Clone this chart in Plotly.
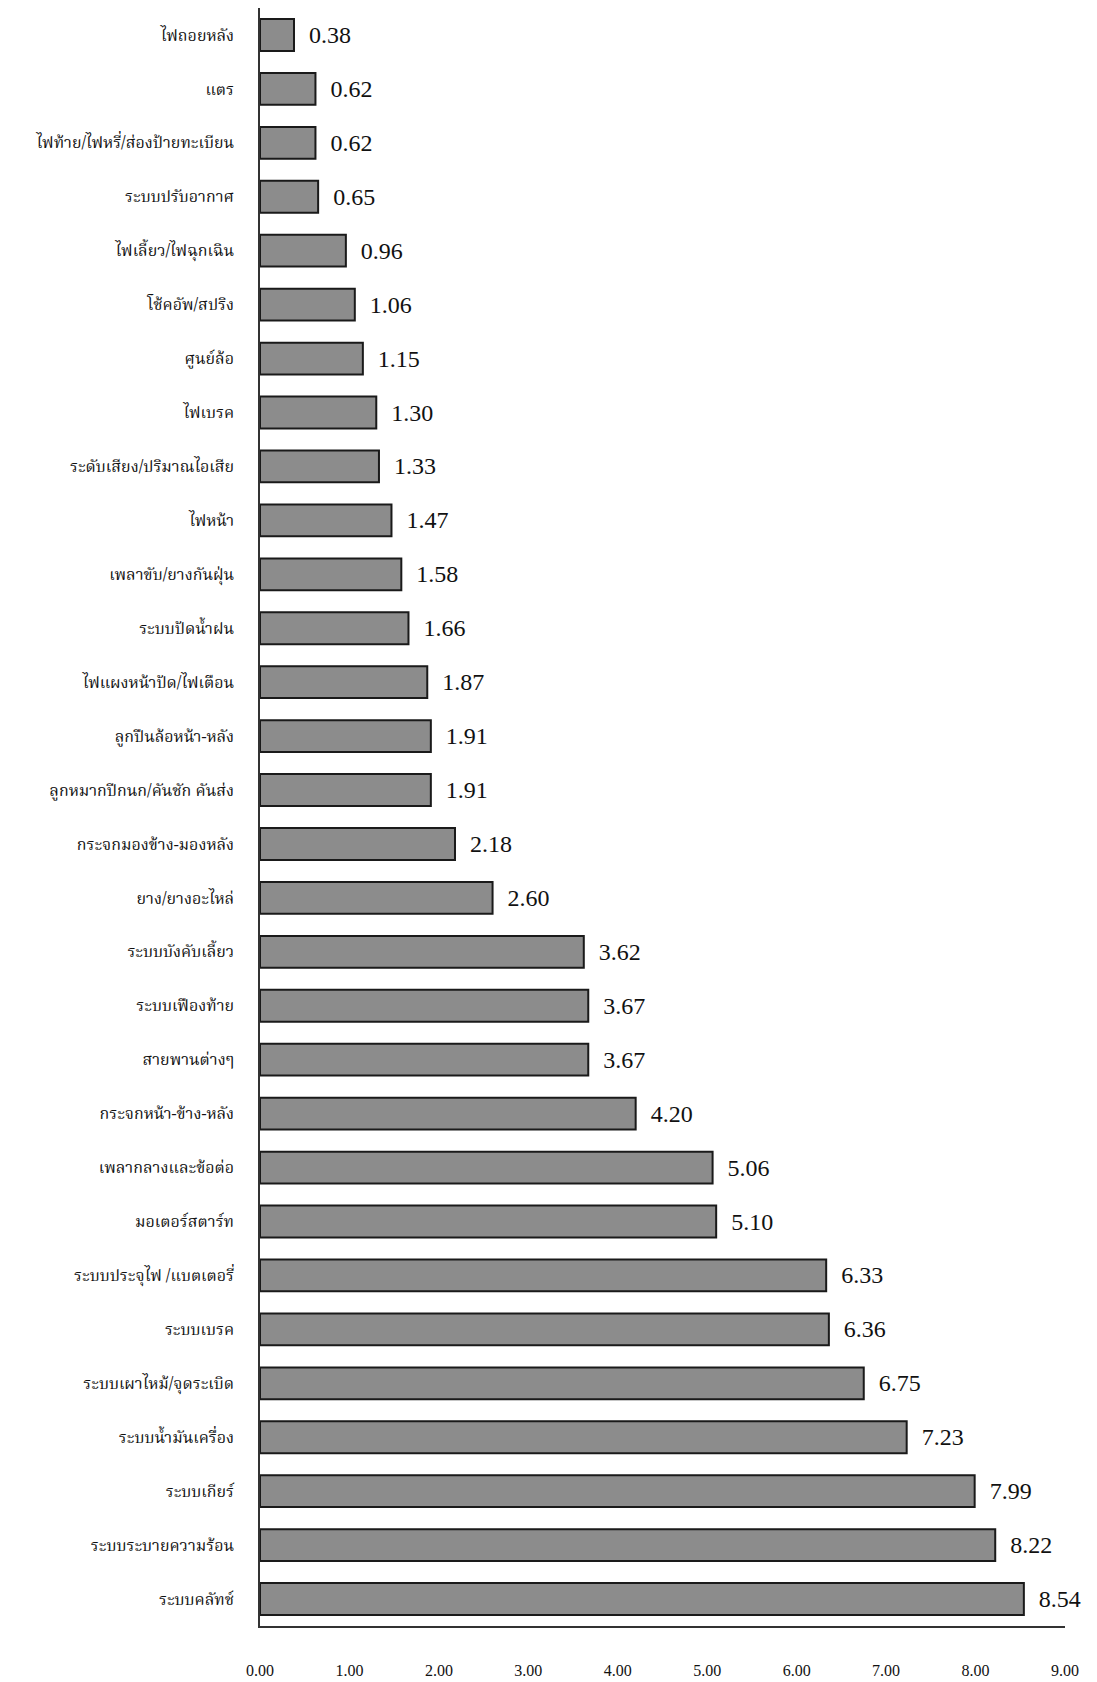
import plotly.graph_objects as go

categories = [
    "ไฟถอยหลัง", "แตร", "ไฟท้าย/ไฟหรี่/ส่องป้ายทะเบียน", "ระบบปรับอากาศ",
    "ไฟเลี้ยว/ไฟฉุกเฉิน", "โช้คอัพ/สปริง", "ศูนย์ล้อ", "ไฟเบรค",
    "ระดับเสียง/ปริมาณไอเสีย", "ไฟหน้า", "เพลาขับ/ยางกันฝุ่น", "ระบบปัดน้ำฝน",
    "ไฟแผงหน้าปัด/ไฟเตือน", "ลูกปืนล้อหน้า-หลัง", "ลูกหมากปีกนก/คันชัก คันส่ง",
    "กระจกมองข้าง-มองหลัง", "ยาง/ยางอะไหล่", "ระบบบังคับเลี้ยว", "ระบบเฟืองท้าย",
    "สายพานต่างๆ", "กระจกหน้า-ข้าง-หลัง", "เพลากลางและข้อต่อ", "มอเตอร์สตาร์ท",
    "ระบบประจุไฟ /แบตเตอรี่", "ระบบเบรค", "ระบบเผาไหม้/จุดระเบิด",
    "ระบบน้ำมันเครื่อง", "ระบบเกียร์", "ระบบระบายความร้อน", "ระบบคลัทช์",
]
values = [
    0.38, 0.62, 0.62, 0.65, 0.96, 1.06, 1.15, 1.30, 1.33, 1.47,
    1.58, 1.66, 1.87, 1.91, 1.91, 2.18, 2.60, 3.62, 3.67, 3.67,
    4.20, 5.06, 5.10, 6.33, 6.36, 6.75, 7.23, 7.99, 8.22, 8.54,
]
x_ticks = [0, 1, 2, 3, 4, 5, 6, 7, 8, 9]
x_tick_labels = ["0.00", "1.00", "2.00", "3.00", "4.00", "5.00", "6.00", "7.00", "8.00", "9.00"]

serif = "Liberation Serif, Times New Roman, serif"
thai = "Noto Serif Thai, Garuda, Loma, Norasi, Tlwg Typo, Noto Sans Thai, sans-serif"

fig = go.Figure(
    go.Bar(
        x=values,
        y=categories,
        orientation="h",
        marker=dict(color="#8c8c8c", line=dict(color="#1a1a1a", width=2)),
        text=[f"{v:.2f}" for v in values],
        texttemplate="  %{text}",
        textposition="outside",
        textfont=dict(family=serif, size=24, color="#111"),
        cliponaxis=False,
    )
)

fig.update_layout(
    width=1097,
    height=1682,
    margin=dict(l=252, r=40, t=0, b=64),
    paper_bgcolor="white",
    plot_bgcolor="white",
    bargap=0.41,
    showlegend=False,
    xaxis=dict(
        range=[0, 9],
        tickvals=x_ticks,
        ticktext=x_tick_labels,
        showgrid=False,
        zeroline=False,
        showline=True,
        linecolor="#333",
        linewidth=1.5,
        ticks="outside",
        ticklen=0,
        ticklabelstandoff=29,
        automargin=False,
        tickfont=dict(family=serif, size=16, color="#111"),
    ),
    yaxis=dict(
        autorange="reversed",
        showgrid=False,
        zeroline=False,
        showline=True,
        linecolor="#333",
        linewidth=1.5,
        ticks="",
        ticklabelstandoff=21,
        automargin=False,
        tickfont=dict(family=thai, size=16, color="#111"),
    ),
)

fig.write_html("out.html")
